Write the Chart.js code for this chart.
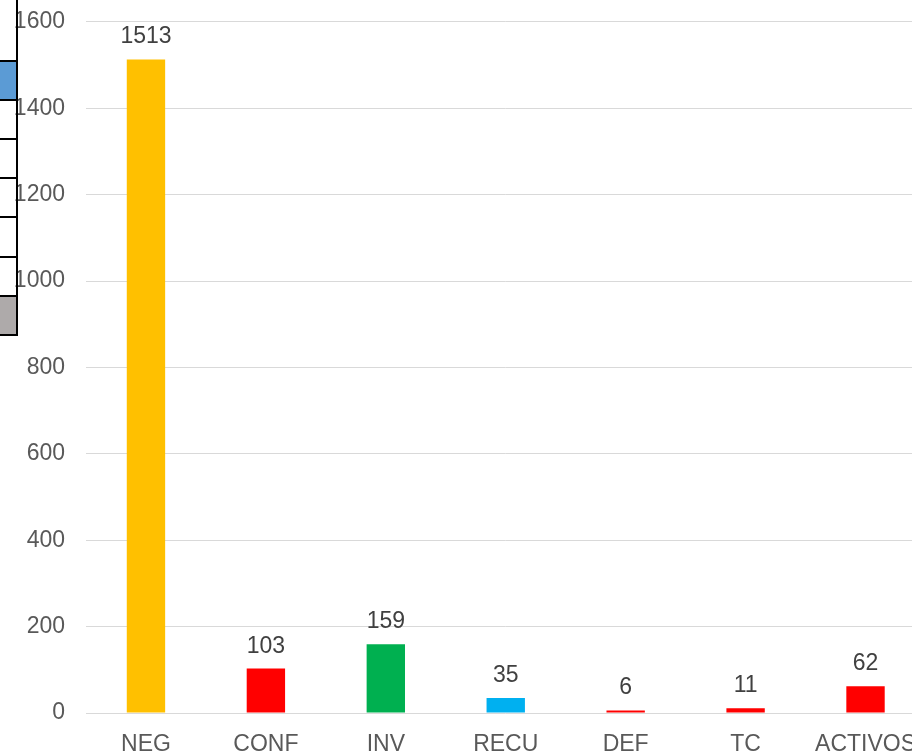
<!DOCTYPE html>
<html>
<head>
<meta charset="utf-8">
<script src="https://cdn.jsdelivr.net/npm/chart.js@4"></script>
<style>
  html, body { margin: 0; padding: 0; width: 912px; height: 751px; overflow: hidden; background: #fff; }
  #wrap { position: relative; width: 912px; height: 751px; overflow: hidden; }
  #chart { position: absolute; left: 0; top: -13px; }
  .cell { position: absolute; left: 0; width: 16px; border-top: 2px solid #000; box-sizing: border-box; }
  .vline { position: absolute; left: 16px; top: 0; width: 2px; height: 336px; background: #000; }
</style>
</head>
<body>
<div id="wrap">
  <canvas id="chart" width="926" height="783"></canvas>
  <!-- spreadsheet cells peeking in on the left -->
  <div class="cell" style="top:60px;height:41px;background:#5B9BD5;border-bottom:2px solid #000"></div>
  <div class="cell" style="top:138px;height:40px"></div>
  <div class="cell" style="top:177px;height:40px"></div>
  <div class="cell" style="top:216px;height:41px"></div>
  <div class="cell" style="top:256px;height:40px"></div>
  <div class="cell" style="top:295px;height:41px;background:#AEAAAA;border-bottom:2px solid #000"></div>
  <div class="vline"></div>
</div>
<script>
const categories = ['NEG', 'CONF', 'INV', 'RECU', 'DEF', 'TC', 'ACTIVOS'];
const values = [1513, 103, 159, 35, 6, 11, 62];
const barColors = ['#FFC000', '#FF0000', '#00B050', '#00B0F0', '#FF0000', '#FF0000', '#FF0000'];
const yTicks = [0, 200, 400, 600, 800, 1000, 1200, 1400, 1600];

const textColor = '#595959';
const fontFamily = '"Liberation Sans", Arial, sans-serif';

const valueLabels = {
    id: 'valueLabels',
    afterDatasetsDraw(chart) {
        const ctx = chart.ctx;
        const meta = chart.getDatasetMeta(0);
        ctx.save();
        ctx.font = '23px ' + fontFamily;
        ctx.fillStyle = '#404040';
        ctx.textAlign = 'center';
        ctx.textBaseline = 'alphabetic';
        meta.data.forEach((bar, i) => {
            ctx.fillText(values[i], bar.x, bar.y - 16);
        });
        ctx.restore();
    }
};

new Chart('chart', {
    type: 'bar',
    data: {
        labels: categories,
        datasets: [{
            data: values,
            backgroundColor: barColors,
            barPercentage: 0.64,
            categoryPercentage: 0.5
        }]
    },
    options: {
        responsive: false,
        animation: false,
        layout: { padding: { top: 7, left: 0, right: 0, bottom: 0 } },
        plugins: { legend: { display: false }, tooltip: { enabled: false } },
        scales: {
            x: {
                grid: { display: false },
                border: { display: false },
                ticks: { color: textColor, font: { size: 23, family: fontFamily }, padding: 10, maxRotation: 0 },
                afterFit(scale) { scale.height = 57; }
            },
            y: {
                min: 0,
                max: 1600,
                afterBuildTicks(scale) { scale.ticks = yTicks.map(v => ({ value: v })); },
                grid: { color: '#D9D9D9', lineWidth: 1, drawTicks: false },
                border: { display: false },
                ticks: {
                    color: textColor,
                    font: { size: 23, family: fontFamily },
                    padding: 21,
                    callback: v => String(v)
                },
                afterFit(scale) { scale.width = 86; }
            }
        }
    },
    plugins: [valueLabels]
});
</script>
</body>
</html>
